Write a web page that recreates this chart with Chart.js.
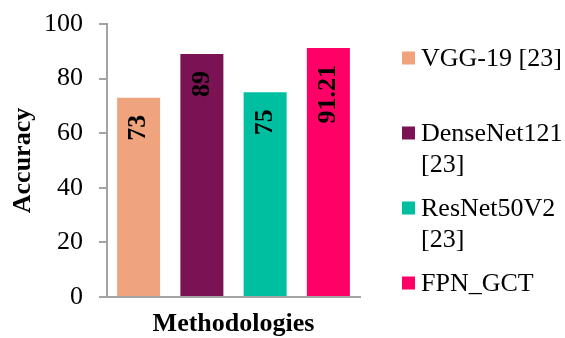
<!DOCTYPE html>
<html>
<head>
<meta charset="utf-8">
<script src="https://cdn.jsdelivr.net/npm/chart.js@4/dist/chart.umd.min.js"></script>
<style>
  html, body { margin: 0; padding: 0; background: #fff; }
  canvas { display: block; }
</style>
</head>
<body>
<canvas id="accChart" width="565" height="338"></canvas>
<script>
  const methods  = ['VGG-19 [23]', 'DenseNet121 [23]', 'ResNet50V2 [23]', 'FPN_GCT'];
  const accuracy = [73, 89, 75, 91.21];
  const colors   = ['#F0A47E', '#7B1254', '#00BFA0', '#FF0066'];
  const yTicks   = [0, 20, 40, 60, 80, 100];

  const SERIF = '"Liberation Serif", "Times New Roman", serif';
  const AXIS  = '#A3A3A3';

  // value labels, rotated, just inside the top of each bar
  const barLabels = {
    id: 'barLabels',
    afterDatasetsDraw(chart) {
      const ctx = chart.ctx;
      const meta = chart.getDatasetMeta(0);
      ctx.save();
      ctx.font = 'bold 26px ' + SERIF;
      ctx.fillStyle = '#000';
      ctx.textAlign = 'right';
      ctx.textBaseline = 'middle';
      meta.data.forEach((bar, i) => {
        ctx.save();
        ctx.translate(bar.x, bar.y + 17);
        ctx.rotate(-Math.PI / 2);
        ctx.fillText(String(accuracy[i]), 0, 0);
        ctx.restore();
      });
      ctx.restore();
    }
  };

  // legend on the right, wrapped like the original
  const sideLegend = {
    id: 'sideLegend',
    afterDraw(chart) {
      const ctx = chart.ctx;
      const boxX = 402, textX = 421, maxW = 144;
      let base = 65.5;
      ctx.save();
      ctx.font = '26px ' + SERIF;
      ctx.textBaseline = 'alphabetic';
      ctx.textAlign = 'left';
      methods.forEach((name, i) => {
        const words = name.split(' ');
        const lines = [];
        let cur = '';
        words.forEach(w => {
          const t = cur ? cur + ' ' + w : w;
          if (cur && ctx.measureText(t).width > maxW) { lines.push(cur); cur = w; }
          else cur = t;
        });
        lines.push(cur);
        ctx.fillStyle = colors[i];
        ctx.fillRect(boxX, base - 14, 13, 13);
        ctx.fillStyle = '#000';
        lines.forEach((ln, k) => ctx.fillText(ln, textX, base + k * 31));
        base += 75;
      });
      ctx.restore();
    }
  };

  new Chart(document.getElementById('accChart'), {
    type: 'bar',
    data: {
      labels: methods,
      datasets: [{
        label: 'Accuracy',
        data: accuracy,
        backgroundColor: colors,
        borderWidth: 0,
        barPercentage: 0.68,
        categoryPercentage: 1
      }]
    },
    options: {
      responsive: false,
      animation: false,
      devicePixelRatio: 1,
      layout: { padding: { top: 24, right: 205, left: 0, bottom: 0 } },
      plugins: { legend: { display: false }, tooltip: { enabled: false } },
      scales: {
        x: {
          grid: { display: false },
          border: { display: true, color: AXIS, width: 2 },
          ticks: { display: false },
          title: {
            display: true, text: 'Methodologies', color: '#000',
            font: { family: SERIF, size: 26, weight: 'bold', lineHeight: 1 },
            padding: { top: 0, bottom: 1 }
          },
          afterFit(s) { s.height = 41; }
        },
        y: {
          min: 0, max: 100,
          afterBuildTicks(s) { s.ticks = yTicks.map(v => ({ value: v })); },
          grid: {
            display: true, drawOnChartArea: false, drawTicks: true,
            tickLength: 8, color: AXIS, lineWidth: 2
          },
          border: { display: true, color: AXIS, width: 2 },
          ticks: {
            color: '#000', padding: 16,
            font: { family: SERIF, size: 26 }
          },
          title: {
            display: true, text: 'Accuracy', color: '#000',
            font: { family: SERIF, size: 26, weight: 'bold', lineHeight: 1 },
            padding: { top: 10, bottom: 0 }
          },
          afterFit(s) {
            s.width = 107;
            s.paddingTop = 0;
            s.paddingBottom = 0;
          }
        }
      }
    },
    plugins: [barLabels, sideLegend]
  });
</script>
</body>
</html>
